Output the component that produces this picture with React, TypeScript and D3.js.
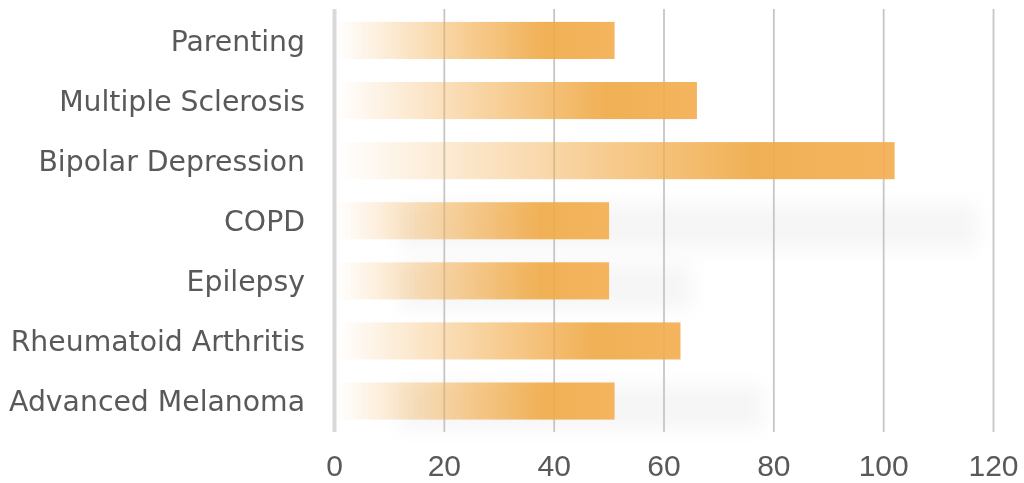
import React from "react";
import * as d3 from "d3";

// Programme counts by condition
const categories = [
  "Parenting",
  "Multiple Sclerosis",
  "Bipolar Depression",
  "COPD",
  "Epilepsy",
  "Rheumatoid Arthritis",
  "Advanced Melanoma",
];
const values = [51, 66, 102, 50, 50, 63, 51];
const xTicks = [0, 20, 40, 60, 80, 100, 120];

// Soft grey drop shadows trailing some of the bars (value where each fades out)
const shadowCategories = ["COPD", "Epilepsy", "Advanced Melanoma"];
const shadowEnds = [117, 65, 78];

const W = 1024;
const H = 483;

export default function App() {
  const x = d3.scaleLinear().domain([0, 120]).range([334.5, 993.5]);
  const y = d3
    .scaleBand<string>()
    .domain(categories)
    .range([9.5, 432])
    .paddingInner(0.383)
    .paddingOuter(0.2065);

  const labelColor = "#595959";

  return (
    <div style={{ position: "fixed", left: 0, top: 0, width: W, height: H, overflow: "hidden" }}>
      <svg width={W} height={H} style={{ display: "block", background: "#fff" }}>
        <defs>
          <linearGradient id="barFill" x1="0" y1="0" x2="1" y2="0">
            <stop offset="0" stopColor="#f3ae50" stopOpacity={0} />
            <stop offset="0.25" stopColor="#f3ae50" stopOpacity={0.35} />
            <stop offset="0.5" stopColor="#f2ad4e" stopOpacity={0.7} />
            <stop offset="0.75" stopColor="#efaa48" stopOpacity={1} />
            <stop offset="1" stopColor="#f3af52" stopOpacity={1} />
          </linearGradient>
          <filter id="soft" x="-20%" y="-100%" width="140%" height="300%">
            <feGaussianBlur stdDeviation="9" />
          </filter>
        </defs>

        {/* blurred shadows */}
        <g filter="url(#soft)">
          {shadowCategories.map((c, i) => (
            <rect
              key={c}
              x={x(12)}
              y={(y(c) ?? 0) + 2}
              width={x(shadowEnds[i]) - x(12)}
              height={y.bandwidth() + 8}
              fill="#000"
              opacity={0.035}
            />
          ))}
        </g>

        {/* vertical gridlines */}
        {xTicks.map((t) => (
          <line
            key={t}
            x1={x(t)}
            x2={x(t)}
            y1={9}
            y2={432}
            stroke={t === 0 ? "#d9d9d9" : "#c6c6c6"}
            strokeWidth={t === 0 ? 4 : 1.8}
          />
        ))}

        {/* bars */}
        {categories.map((c, i) => (
          <rect
            key={c}
            x={x(0) + 2.5}
            y={y(c)}
            width={x(values[i]) - x(0) - 2.5}
            height={y.bandwidth()}
            fill="url(#barFill)"
            opacity={0.93}
          />
        ))}

        {/* category labels */}
        {categories.map((c) => (
          <text
            key={c}
            x={305}
            y={(y(c) ?? 0) + y.bandwidth() / 2}
            dy="0.36em"
            textAnchor="end"
            fontFamily="'DejaVu Sans', sans-serif"
            fontSize={28.3}
            fill={labelColor}
          >
            {c}
          </text>
        ))}

        {/* x-axis tick labels */}
        {xTicks.map((t) => (
          <text
            key={t}
            x={x(t)}
            y={476}
            textAnchor="middle"
            fontFamily="'Liberation Sans', Arial, sans-serif"
            fontSize={30}
            fill={labelColor}
          >
            {t}
          </text>
        ))}
      </svg>
    </div>
  );
}
